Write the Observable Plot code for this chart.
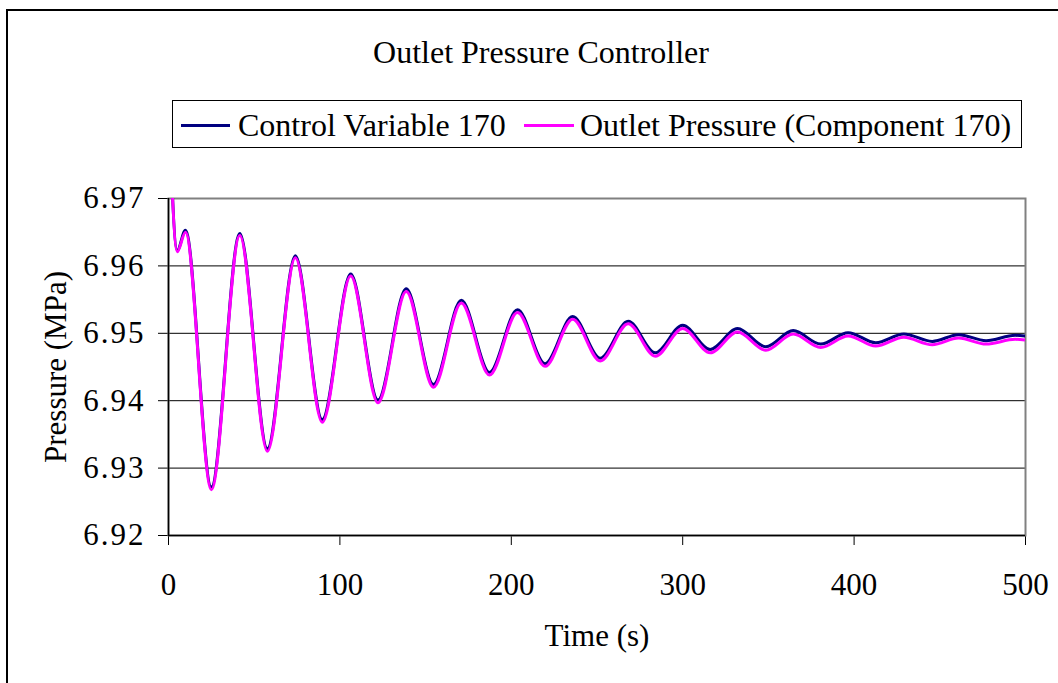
<!DOCTYPE html>
<html><head><meta charset="utf-8">
<script src="https://cdn.jsdelivr.net/npm/d3@7"></script>
<script src="https://cdn.jsdelivr.net/npm/@observablehq/plot@0.6"></script>
<style>
body{margin:0;background:#fff;}
#wrap{position:relative;width:1058px;height:683px;overflow:hidden;font-family:"Liberation Serif","Times New Roman",serif;color:#000;}
#border{position:absolute;left:6px;top:9px;width:1100px;height:700px;border-left:2px solid #000;border-top:2px solid #000;}
.t{position:absolute;white-space:nowrap;line-height:1;font-size:32px;font-family:"Liberation Serif","Times New Roman",serif;}
#title{left:541px;top:36px;transform:translateX(-50%);}
#legend{position:absolute;left:172px;top:100px;width:850px;height:48px;box-sizing:border-box;border:1px solid #000;}
.sw{position:absolute;height:3px;top:124px;}
#chart{position:absolute;left:0;top:160px;}
#chart g[aria-label="y-axis tick label"] text{letter-spacing:2px;}
</style></head>
<body><div id="wrap">
<div id="border"></div>
<div id="title" class="t">Outlet Pressure Controller</div>
<div id="legend"></div>
<div class="sw" style="left:181px;width:49px;background:#000080"></div>
<div class="t" style="left:238px;top:109px;">Control Variable 170</div>
<div class="sw" style="left:524px;width:50px;background:#FF00FF"></div>
<div class="t" style="left:580px;top:109px;">Outlet Pressure (Component 170)</div>
<div id="chart"></div>
</div>
<script>
// Time (s) at read extrema
const times = [0, 5.1, 9.9, 25, 41.6, 57.7, 74, 89.7, 106.3, 122.2, 138.7, 154.6, 170.8, 187.3, 203.6, 219.7, 235.8, 251.9, 268.2, 284, 300, 316, 332, 348.5, 364.5, 380.5, 396.5, 412.6, 429, 445.6, 461, 477, 494, 500];
// Control Variable 170 (MPa)
const controlVariable = [6.985, 6.9623, 6.9653, 6.9272, 6.9648, 6.9329, 6.9615, 6.9372, 6.9588, 6.9401, 6.9566, 6.9424, 6.9549, 6.9442, 6.9535, 6.9455, 6.9525, 6.9463, 6.9518, 6.9471, 6.9512, 6.9476, 6.9507, 6.9480, 6.9504, 6.9484, 6.9501, 6.9486, 6.9499, 6.9488, 6.9498, 6.9489, 6.9497, 6.9496];
// Outlet Pressure (Component 170) (MPa)
const outletPressure = [6.985, 6.9621, 6.9650, 6.9268, 6.9645, 6.9325, 6.9612, 6.9368, 6.9585, 6.9397, 6.9562, 6.9420, 6.9545, 6.9438, 6.9531, 6.9451, 6.9521, 6.9459, 6.9514, 6.9466, 6.9507, 6.9471, 6.9502, 6.9475, 6.9499, 6.9479, 6.9496, 6.9481, 6.9494, 6.9483, 6.9493, 6.9484, 6.9491, 6.9490];
const xTicks = [0, 100, 200, 300, 400, 500];
const yTicks = [6.92, 6.93, 6.94, 6.95, 6.96, 6.97];
const gridValues = [6.93, 6.94, 6.95, 6.96];

const cvRows = times.map((t, i) => ({t, v: controlVariable[i]}));
const opRows = times.map((t, i) => ({t, v: outletPressure[i]}));

const chart = Plot.plot({
  width: 1058,
  height: 523,
  marginTop: 38,
  marginBottom: 148,
  marginLeft: 168,
  marginRight: 33,
  style: {fontFamily: '"Liberation Serif","Times New Roman",serif', fontSize: "31px", background: "transparent", color: "#000", overflow: "visible"},
  x: {domain: [0, 500], ticks: xTicks, tickSize: 10, tickPadding: 27, tickFormat: d => String(d), label: null},
  y: {domain: [6.92, 6.97], ticks: yTicks, tickSize: 10, tickPadding: 13, tickFormat: d => d.toFixed(2), label: null},
  marks: [
    Plot.ruleY(gridValues, {stroke: "#000", strokeWidth: 1}),
    Plot.frame({stroke: "#808080", strokeWidth: 2}),
    Plot.line(cvRows, {x: "t", y: "v", stroke: "#000080", strokeWidth: 3, curve: "monotone-x", clip: true}),
    Plot.line(opRows, {x: "t", y: "v", stroke: "#FF00FF", strokeWidth: 3, curve: "monotone-x", clip: true}),
    Plot.ruleX([0], {stroke: "#000", strokeWidth: 1.5}),
    Plot.ruleY([6.92], {stroke: "#000", strokeWidth: 1.5}),
    Plot.text(["Time (s)"], {text: d => d, frameAnchor: "bottom", textAnchor: "middle", lineAnchor: "middle", dy: 101, fontSize: 31}),
    Plot.text(["Pressure (MPa)"], {text: d => d, frameAnchor: "left", textAnchor: "middle", lineAnchor: "middle", rotate: -90, dx: -112, fontSize: 31})
  ]
});
document.getElementById("chart").appendChild(chart);
</script>
</body></html>
